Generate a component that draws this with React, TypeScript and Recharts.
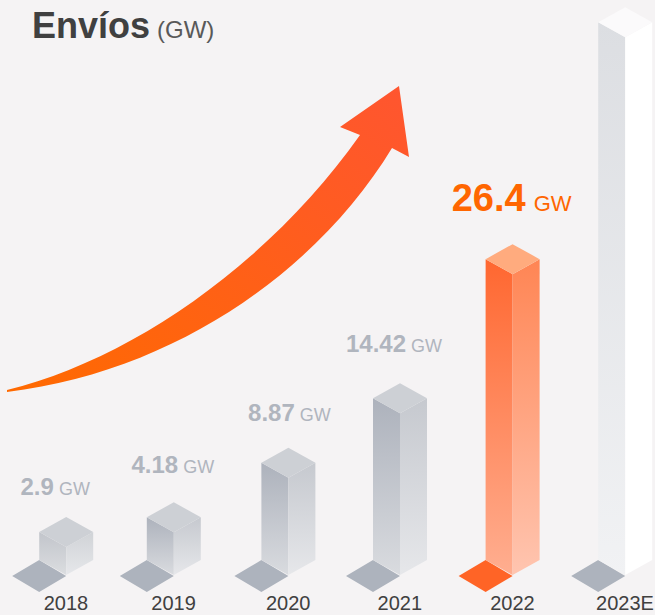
import React from 'react';
import { BarChart, Bar, XAxis, YAxis, LabelList, Customized } from 'recharts';

document.body.style.margin = '0';

const years = ['2018', '2019', '2020', '2021', '2022', '2023E'];
const shipments = [2.9, 4.18, 8.87, 14.42, 26.4, 46.8];
// the 2023E column carries no label in the picture
const shownLabels = ['2.9', '4.18', '8.87', '14.42', '26.4', ''];

// the columns in the source are not quite evenly spaced
const columnNudge = [0, -4, -1, -1, 0, 1];
const labelShiftX = [-11, -5, 0, -7, -1, 0];
const labelLift = [52, 59, 57, 61, 63, 0];

const chartData = years.map((year, i) => ({ year, shipments: shipments[i], label: shownLabels[i] }));

const FONT = '"Liberation Sans", Arial, sans-serif';
const DEPTH = 15;

const grey = { leftA: '#adb2bc', leftB: '#d9dbdf', rightA: '#c6c9cf', rightB: '#e6e7ea', top: '#cdd0d5', floor: '#adb3bd' };
const palettes = [
    { ...grey, leftA: '#c2c5cb', leftB: '#dbdde0', rightA: '#d0d3d7', rightB: '#e6e7ea' },
    grey,
    grey,
    grey,
    { leftA: '#ff6730', leftB: '#ffae90', rightA: '#ff8554', rightB: '#ffc5b0', top: '#ffab7e', floor: '#ff6426' },
    { leftA: '#dcdee2', leftB: '#f1f2f4', rightA: '#ffffff', rightB: '#ffffff', top: '#fbfafb', floor: '#adb3bd' },
];

const IsoBar = (props: any) => {
    const { y, width, height, index } = props;
    const x = props.x + columnNudge[index];
    const half = width / 2;
    const cx = x + half;
    const bottom = y + height;
    const p = palettes[index];
    return (
        <g>
            <defs>
                <linearGradient id={`left-${index}`} x1="0" y1="0" x2="0" y2="1">
                    <stop offset="0%" stopColor={p.leftA} />
                    <stop offset="100%" stopColor={p.leftB} />
                </linearGradient>
                <linearGradient id={`right-${index}`} x1="0" y1="0" x2="0" y2="1">
                    <stop offset="0%" stopColor={p.rightA} />
                    <stop offset="100%" stopColor={p.rightB} />
                </linearGradient>
            </defs>
            <polygon
                points={`${x - half},${bottom + 1} ${x},${bottom - DEPTH} ${cx},${bottom + 1} ${x},${bottom + 17}`}
                fill={p.floor}
            />
            <polygon
                points={`${x},${y - DEPTH} ${cx},${y} ${cx},${bottom} ${x},${bottom - DEPTH}`}
                fill={`url(#left-${index})`}
            />
            <polygon
                points={`${cx},${y} ${x + width},${y - DEPTH} ${x + width},${bottom - DEPTH} ${cx},${bottom}`}
                fill={`url(#right-${index})`}
            />
            <polygon
                points={`${cx},${y} ${x},${y - DEPTH} ${cx},${y - DEPTH * 2} ${x + width},${y - DEPTH}`}
                fill={p.top}
            />
        </g>
    );
};

const ValueLabel = (props: any) => {
    const { x, y, width, value, index } = props;
    if (!value) return null;
    const big = index === 4;
    const color = big ? '#ff6600' : '#b0b5be';
    return (
        <text
            x={x + width / 2 + labelShiftX[index]}
            y={y - labelLift[index]}
            textAnchor="middle"
            fontFamily={FONT}
            fill={color}
        >
            <tspan fontSize={big ? 38 : 24} fontWeight="bold">{value}</tspan>
            <tspan fontSize={big ? 22 : 18} dx={big ? 8 : 5}>GW</tspan>
        </text>
    );
};

const YearTick = (props: any) => {
    const { x, y, payload, index } = props;
    return (
        <text x={x + columnNudge[index]} y={y} dy={15} textAnchor="middle" fontSize={20} fill="#404040" fontFamily={FONT}>
            {payload.value}
        </text>
    );
};

const GrowthArrow = () => (
    <g>
        <defs>
            <linearGradient id="arrowFill" x1="0" y1="1" x2="1" y2="0">
                <stop offset="0%" stopColor="#ff6a00" />
                <stop offset="100%" stopColor="#ff5530" />
            </linearGradient>
        </defs>
        <path
            d="M7 390 C130 360 268 265 360 135 L340 127 L399 86 L409 157 L392 148 C318 270 175 372 7 392 Z"
            fill="url(#arrowFill)"
        />
    </g>
);

export default function App() {
    return (
        <div style={{ position: 'relative', width: 655, height: 615, background: '#f5f3f4', overflow: 'hidden', fontFamily: FONT }}>
            <div style={{ position: 'absolute', left: 32, top: 5, whiteSpace: 'nowrap', color: '#404040' }}>
                <span style={{ fontSize: 36, fontWeight: 'bold' }}>Envíos</span>
                <span style={{ fontSize: 24, color: '#595959', marginLeft: 7 }}>(GW)</span>
            </div>
            <BarChart
                width={655}
                height={615}
                data={chartData}
                margin={{ top: 0, right: 31, left: 66, bottom: 0 }}
                style={{ position: 'absolute', left: 0, top: 0 }}
            >
                <Customized component={GrowthArrow} />
                <XAxis
                    dataKey="year"
                    scale="point"
                    axisLine={false}
                    tickLine={false}
                    interval={0}
                    height={40}
                    tick={YearTick}
                    tickMargin={14}
                />
                <YAxis hide domain={[0.5, 50]} />
                <Bar dataKey="shipments" barSize={54} shape={IsoBar} isAnimationActive={false}>
                    <LabelList dataKey="label" content={ValueLabel} />
                </Bar>
            </BarChart>
        </div>
    );
}
